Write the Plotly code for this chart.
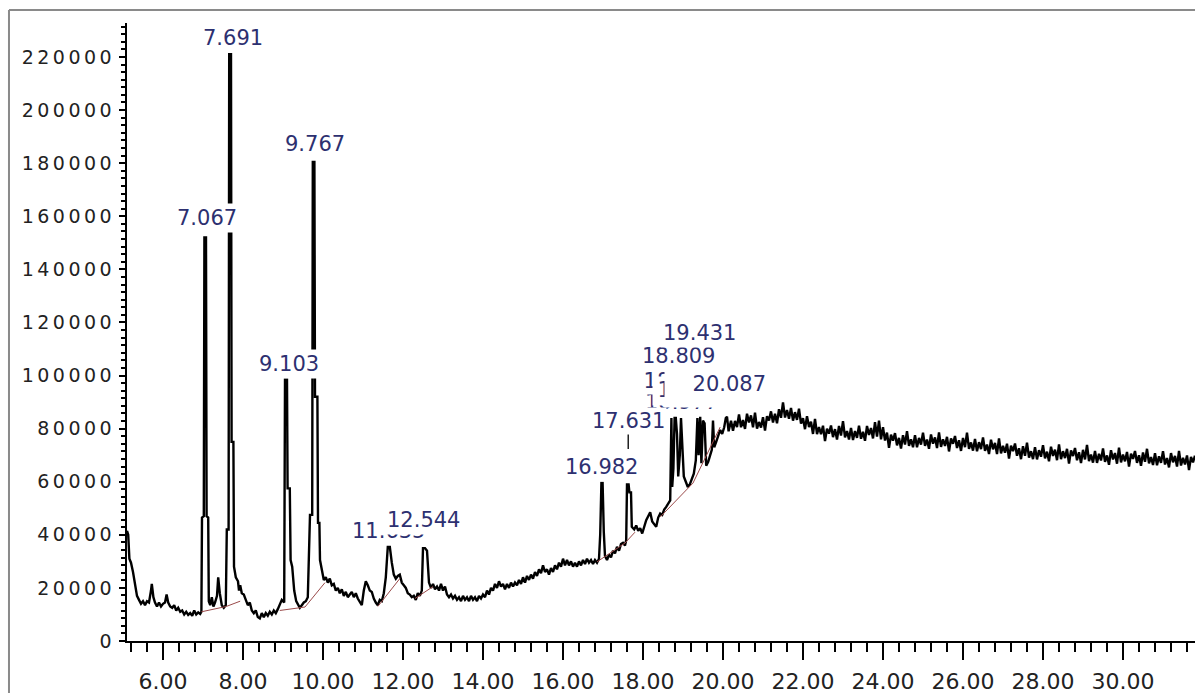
import plotly.graph_objects as go

# ---------------- data ----------------
rt_early = [5.10, 5.13, 5.16, 5.20, 5.25, 5.30, 5.35, 5.40, 5.45, 5.50, 5.55, 5.60, 5.65, 5.70, 5.72,
            5.76, 5.80, 5.85, 5.90, 5.95, 6.00, 6.05, 6.09, 6.13, 6.18, 6.23, 6.28, 6.33, 6.38, 6.43,
            6.48, 6.53, 6.58, 6.63, 6.68, 6.73, 6.78, 6.83, 6.88, 6.93,
            6.96, 6.975, 7.02, 7.035, 7.075, 7.09, 7.13, 7.145, 7.18, 7.22, 7.26, 7.30, 7.35, 7.38,
            7.42, 7.47, 7.52, 7.57, 7.595, 7.64, 7.655, 7.70, 7.715, 7.76, 7.775, 7.82, 7.875, 7.90,
            7.93, 7.97, 8.02, 8.07, 8.12, 8.17, 8.22, 8.27, 8.32, 8.37, 8.42, 8.47, 8.52, 8.57, 8.62,
            8.67, 8.72, 8.77, 8.82, 8.87, 8.92, 8.97, 9.03, 9.05, 9.10, 9.115, 9.17, 9.19, 9.23, 9.28,
            9.33, 9.38, 9.42, 9.47, 9.52, 9.57, 9.62, 9.675, 9.73, 9.745, 9.785, 9.80, 9.86, 9.875,
            9.91, 9.925, 9.97]
abund_early = [41500, 40000, 31000, 29500, 26000, 22000, 17000, 15500, 14000, 15000, 13500, 15000, 14500, 19000, 21500,
               16500, 14500, 13000, 14500, 13000, 14000, 14500, 17500, 14500, 13000, 12500, 13500, 11500, 12500, 11000,
               11500, 10000, 11000, 9800, 10500, 9500, 11500, 10000, 10800, 10200,
               11000, 46500, 47000, 152000, 152000, 47000, 46500, 15000, 13500, 16500, 13000, 14500, 17000, 24000,
               18000, 13500, 12500, 13500, 42000, 42000, 221000, 221000, 75000, 75000, 28000, 24000, 22500, 19000,
               21000, 18000, 17500, 15500, 13500, 14500, 11500, 10500, 11500, 9000, 8500, 10500, 9000, 10500, 9500,
               11000, 10000, 11500, 10500, 12000, 13500, 15500, 14500, 98500, 98500, 57500, 57500, 30500, 28000, 19000,
               15000, 13500, 12500, 13500, 14500, 15000, 16500, 47500, 47500, 180500, 180500, 92000, 92000, 44500,
               44500, 30500, 27000]

rt_mid = [10.02, 10.07, 10.12, 10.17, 10.22, 10.27, 10.32, 10.37, 10.42, 10.47, 10.52, 10.57, 10.62, 10.67,
          10.72, 10.77, 10.82, 10.87, 10.92, 10.97, 11.02, 11.07, 11.12, 11.17, 11.22, 11.27, 11.32, 11.37,
          11.42, 11.47, 11.52, 11.57, 11.62, 11.67, 11.72, 11.77, 11.82, 11.87, 11.92, 11.97, 12.02, 12.07,
          12.12, 12.17, 12.22, 12.27, 12.32, 12.37, 12.42, 12.47, 12.50, 12.55, 12.60, 12.65, 12.70, 12.75,
          12.80, 12.85, 12.90, 12.95, 13.00, 13.05, 13.10, 13.15, 13.20, 13.25, 13.30, 13.35, 13.40, 13.45,
          13.50, 13.55, 13.60, 13.65, 13.70, 13.75, 13.80, 13.85, 13.90, 13.95, 14.00, 14.05, 14.10, 14.15,
          14.20, 14.25, 14.30, 14.35, 14.40, 14.45, 14.50, 14.55, 14.60, 14.65, 14.70, 14.75, 14.80, 14.85,
          14.90, 14.95, 15.00, 15.05, 15.10, 15.15, 15.20, 15.25, 15.30, 15.35, 15.40, 15.45, 15.50, 15.55,
          15.60, 15.65, 15.70, 15.75, 15.80, 15.85, 15.90, 15.95, 16.00, 16.05, 16.10, 16.15, 16.20, 16.25,
          16.30, 16.35, 16.40, 16.45, 16.50, 16.55, 16.60, 16.65, 16.70, 16.75, 16.80, 16.85, 16.90, 16.93,
          16.96, 16.99, 17.02, 17.05, 17.10, 17.15, 17.20, 17.25, 17.30, 17.35, 17.40, 17.45, 17.50, 17.55,
          17.58, 17.60, 17.64, 17.66, 17.70, 17.72, 17.78, 17.83, 17.88, 17.93, 17.98, 18.03, 18.08, 18.13,
          18.18, 18.23, 18.28, 18.33, 18.38, 18.43, 18.48, 18.53, 18.58, 18.63, 18.68, 18.71, 18.73, 18.76,
          18.79, 18.82, 18.85, 18.88, 18.92, 18.95, 18.98, 19.02, 19.07, 19.12, 19.17, 19.22, 19.27, 19.32,
          19.36, 19.39, 19.43, 19.46, 19.50, 19.54, 19.58, 19.63, 19.68, 19.72, 19.75, 19.78, 19.83, 19.88,
          19.93, 19.98, 20.03, 20.07, 20.10, 20.14]
abund_mid = [23000, 24000, 22000, 23500, 21000, 21500, 19000, 20000, 18000, 19500, 17000, 18500, 16500, 17500,
             18500, 16500, 18000, 16000, 14500, 13500, 19000, 22500, 21000, 19000, 18500, 16000, 14500, 13500,
             15500, 15000, 18000, 24000, 35500, 35500, 29500, 25000, 23500, 24500, 25000, 22000, 21000, 20000,
             18000, 17500, 16500, 17000, 15500, 18000, 17000, 19000, 35000, 35000, 34000, 22000, 20000, 21500,
             19500, 20500, 19000, 21500, 19000, 20500, 17500, 16500, 17500, 16000, 17000, 15500, 16500, 15000,
             17000, 15500, 16500, 15000, 17000, 15500, 16500, 15000, 17000, 16000, 17500, 16500, 19000, 17500,
             20000, 19000, 21500, 20000, 22500, 20500, 21500, 19500, 21500, 20000, 22000, 20500, 22000, 21000,
             23000, 21500, 24000, 22000, 24500, 23000, 25000, 23500, 26000, 24500, 27000, 25500, 28500, 26000,
             27000, 25000, 27500, 26000, 28500, 27000, 29500, 28000, 31000, 28500, 30500, 28500, 30000, 28000,
             29500, 28000, 30000, 28500, 30500, 29000, 31000, 29500, 30500, 29000, 30500, 29500, 31000, 40000,
             59500, 59500, 41000, 32000, 30500, 32500, 31500, 34000, 33000, 35500, 34000, 36500, 37000, 36000,
             38000, 59000, 59000, 56000, 56000, 43000, 42000, 43500, 41500, 42500, 40500, 43500, 45500, 47000,
             48500, 45000, 44000, 43000, 46500, 48000, 47500, 49500, 50500, 52000, 53000, 84000, 58000, 65000,
             84000, 84000, 78000, 62000, 70000, 84000, 72000, 62000, 60000, 58000, 59000, 61000, 63000, 68000,
             84000, 70000, 84500, 67000, 83000, 82000, 66000, 67500, 70000, 72000, 83000, 73000, 75000, 77000,
             79500, 78000, 80500, 84000, 84500, 79000]

rt_late = [20.20, 20.25, 20.30, 20.35, 20.40, 20.45, 20.50, 20.55, 20.60, 20.65, 20.70, 20.75, 20.80, 20.85,
           20.90, 20.95, 21.00, 21.05, 21.10, 21.15, 21.20, 21.25, 21.30, 21.35, 21.40, 21.45, 21.50, 21.55,
           21.60, 21.65, 21.70, 21.75, 21.80, 21.85, 21.90, 21.95, 22.00, 22.05, 22.10, 22.15, 22.20, 22.25,
           22.30, 22.35, 22.40, 22.45, 22.50, 22.55, 22.60, 22.65, 22.70, 22.75, 22.80, 22.85, 22.90, 22.95,
           23.00, 23.05, 23.10, 23.15, 23.20, 23.25, 23.30, 23.35, 23.40, 23.45, 23.50, 23.55, 23.60, 23.65,
           23.70, 23.75, 23.80, 23.85, 23.90, 23.95, 24.00, 24.05, 24.10, 24.15, 24.20, 24.25, 24.30, 24.35,
           24.40, 24.45, 24.50, 24.55, 24.60, 24.65, 24.70, 24.75, 24.80, 24.85, 24.90, 24.95, 25.00, 25.05,
           25.10, 25.15, 25.20, 25.25, 25.30, 25.35, 25.40, 25.45, 25.50, 25.55, 25.60, 25.65, 25.70, 25.75,
           25.80, 25.85, 25.90, 25.95, 26.00, 26.05, 26.10, 26.15, 26.20, 26.25, 26.30, 26.35, 26.40, 26.45,
           26.50, 26.55, 26.60, 26.65, 26.70, 26.75, 26.80, 26.85, 26.90, 26.95, 27.00, 27.05, 27.10, 27.15,
           27.20, 27.25, 27.30, 27.35, 27.40, 27.45, 27.50, 27.55, 27.60, 27.65, 27.70, 27.75, 27.80, 27.85,
           27.90, 27.95, 28.00, 28.05, 28.10, 28.15, 28.20, 28.25, 28.30, 28.35, 28.40, 28.45, 28.50, 28.55,
           28.60, 28.65, 28.70, 28.75, 28.80, 28.85, 28.90, 28.95, 29.00, 29.05, 29.10, 29.15, 29.20, 29.25,
           29.30, 29.35, 29.40, 29.45, 29.50, 29.55, 29.60, 29.65, 29.70, 29.75, 29.80, 29.85, 29.90, 29.95,
           30.00, 30.05, 30.10, 30.15, 30.20, 30.25, 30.30, 30.35, 30.40, 30.45, 30.50, 30.55, 30.60, 30.65,
           30.70, 30.75, 30.80, 30.85, 30.90, 30.95, 31.00, 31.05, 31.10, 31.15, 31.20, 31.25, 31.30, 31.35,
           31.40, 31.45, 31.50, 31.55, 31.60, 31.65, 31.70, 31.75, 31.80]
abund_late = [83000, 79200, 82900, 80600, 85300, 80500, 83200, 79900, 85600, 82300, 85000, 80500, 86000, 80000,
              82500, 80400, 84300, 79300, 84700, 83100, 86500, 82300, 85600, 82000, 87300, 84100, 89900, 84200,
              87000, 83700, 87800, 83000, 86200, 83300, 87500, 81900, 83900, 79800, 84700, 80600, 82600, 78000,
              83700, 77900, 80600, 77900, 81100, 75300, 80000, 78100, 81200, 76800, 79800, 75900, 81000, 77400,
              82800, 76700, 79100, 75900, 80300, 75700, 79100, 76500, 81100, 76200, 78800, 75400, 81000, 77600,
              80200, 76300, 82400, 77000, 83000, 76000, 80500, 75500, 78500, 72800, 77700, 75500, 78300, 73700,
              76500, 72500, 77500, 74000, 79000, 73500, 76000, 73000, 77500, 73000, 76500, 74000, 78500, 73500,
              75900, 72400, 77800, 74300, 76700, 72700, 78600, 73100, 76000, 73500, 76900, 71400, 76300, 74300,
              77200, 72700, 75600, 71600, 76500, 73000, 78500, 72400, 74800, 71700, 76100, 71500, 74900, 72300,
              76700, 71600, 74000, 70400, 75800, 72200, 74600, 70400, 76300, 70700, 73500, 70900, 74300, 68700,
              73600, 71500, 74400, 69800, 72600, 68500, 73400, 69800, 74700, 69100, 71500, 68500, 73000, 68400,
              71900, 69400, 73800, 68800, 71300, 67700, 73200, 69700, 72100, 68100, 74100, 68500, 71500, 68900,
              72400, 66800, 71800, 69700, 72700, 68100, 71100, 67000, 72000, 68400, 73900, 67800, 70200, 67200,
              71600, 67100, 70500, 68000, 72500, 67500, 69900, 66400, 71900, 68400, 70800, 66800, 72800, 67300,
              70200, 67700, 71200, 65700, 70600, 68600, 71600, 67100, 70000, 66000, 71000, 67500, 72400, 66900,
              69300, 66300, 70700, 66200, 69600, 67100, 71500, 66500, 68900, 65400, 70800, 67300, 69700, 65700,
              71600, 66100, 69000, 66500, 69900, 64400, 69300, 67300, 69800]

# integration baselines (segments separated by None)
baseline_rt = [6.96, 7.58, 7.93, None, 8.92, 9.55, 10.05, None, 11.37, 11.92, None, 12.30, 12.75, None,
               16.85, 17.55, 17.80, None, 18.43, 19.25, 19.93]
baseline_abund = [11000, 13000, 15000, None, 11500, 12800, 22000, None, 13000, 23500, None, 16000, 20500, None,
                  29800, 36900, 41000, None, 46700, 59500, 80600]

# peak labels, drawn in this order (x in min, y in abundance at the label centre)
peak_labels = ["18.977", "18.809", "19.431", "16.982",
               "7.067", "7.691", "9.103", "9.767", "11.635", "12.544"]
label_x = [18.97, 18.875, 19.40, 16.95, 7.11, 7.76, 9.16, 9.80, 11.64, 12.50]
label_y = [90000, 107400, 116000, 65400, 159200, 227300, 104500, 187400, 41400, 45600]

# crowded labels whose boxes hide their neighbours (x = right edge, y = top edge)
crowd_labels = ["18.715", "19.571", "20.087"]
crowd_x = [19.89, 20.25, 21.12]
crowd_y = [103200, 99800, 102100]
crowd_w = [76, 77, 100]
crowd_h = [24, 26, 34]

arrow_label = "17.631"
arrow_x, arrow_y = 17.631, 72300

x_ticks = [6, 8, 10, 12, 14, 16, 18, 20, 22, 24, 26, 28, 30]
y_ticks = [0, 20000, 40000, 60000, 80000, 100000, 120000, 140000, 160000, 180000, 200000, 220000]

# ---------------- figure ----------------
rt = rt_early + rt_mid + rt_late
abund = abund_early + abund_mid + abund_late

fig = go.Figure()
fig.add_trace(go.Scatter(x=rt, y=abund, mode="lines",
                         line=dict(color="black", width=2.4), hoverinfo="skip"))
fig.add_trace(go.Scatter(x=baseline_rt, y=baseline_abund, mode="lines",
                         line=dict(color="#9a4a4a", width=1), hoverinfo="skip"))

lab_font = dict(family="DejaVu Sans", size=21, color="#2d3070")
# bottom label of the crowded group first
fig.add_annotation(x=label_x[0], y=label_y[0], text=peak_labels[0], showarrow=False, font=lab_font,
                   bgcolor="white", borderpad=1, xanchor="center", yanchor="middle")
for t, x, y, w, h in zip(crowd_labels, crowd_x, crowd_y, crowd_w, crowd_h):
    fig.add_annotation(x=x, y=y, text=t, showarrow=False, font=lab_font, bgcolor="white",
                       borderpad=1, xanchor="right", yanchor="top", width=w, height=h,
                       align="right", valign="top")
for t, x, y in zip(peak_labels[1:], label_x[1:], label_y[1:]):
    fig.add_annotation(x=x, y=y, text=t, showarrow=False, font=lab_font,
                       bgcolor="white", borderpad=2, xanchor="center", yanchor="middle")
fig.add_annotation(x=arrow_x, y=arrow_y, text=arrow_label, showarrow=True, arrowhead=0,
                   arrowwidth=1.5, arrowcolor="#222", ax=0, ay=-28, font=lab_font,
                   bgcolor="white", borderpad=1)

fig.update_xaxes(range=[5.1, 31.8], tickvals=x_ticks, ticktext=[f"{v:.2f}" for v in x_ticks],
                 showline=True, linecolor="black", linewidth=2, mirror=False,
                 ticks="outside", ticklen=17, tickwidth=2, tickcolor="black",
                 minor=dict(dtick=0.4, tick0=0, ticks="outside", ticklen=9, tickwidth=2, tickcolor="black"),
                 showgrid=False, zeroline=False, automargin=False, ticklabelstandoff=3,
                 tickfont=dict(family="DejaVu Sans", size=22, color="#222"))
fig.update_yaxes(range=[0, 232800], tickvals=y_ticks, ticktext=[str(v) for v in y_ticks],
                 showline=True, linecolor="black", linewidth=2,
                 ticks="outside", ticklen=6, tickwidth=1.5, tickcolor="black",
                 minor=dict(dtick=20000 / 7, tick0=0, ticks="outside", ticklen=4, tickwidth=1.5,
                            tickcolor="black"),
                 showgrid=False, zeroline=False, automargin=False,
                 tickfont=dict(family="DejaVu Sans", size=19, color="#222"))

# outer gray frame
fig.add_shape(type="line", xref="paper", yref="paper", x0=-0.1105, x1=1.02, y0=1.0212, y1=1.0212,
              line=dict(color="#8a8a8a", width=2))
fig.add_shape(type="line", xref="paper", yref="paper", x0=-0.1105, x1=-0.1105, y0=1.0212, y1=-0.12,
              line=dict(color="#8a8a8a", width=2))

fig.update_layout(width=1195, height=693, margin=dict(l=127, r=0, t=23, b=52),
                  paper_bgcolor="white", plot_bgcolor="white", showlegend=False)

post = ("document.body.style.margin='0';document.body.style.overflow='hidden';"
        "var s=document.createElement('style');"
        "s.textContent='.ytick text{letter-spacing:3.5px}';"
        "document.head.appendChild(s);")
fig.write_html("out.html", post_script=post, config={"displayModeBar": False})
